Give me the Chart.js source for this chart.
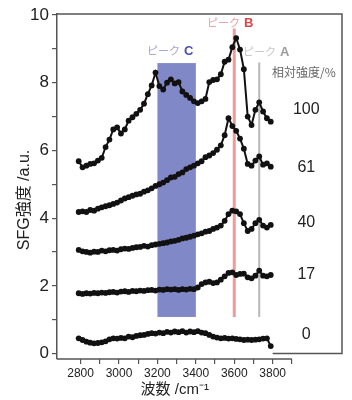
<!DOCTYPE html>
<html>
<head>
<meta charset="utf-8">
<script src="https://cdn.jsdelivr.net/npm/chart.js@4"></script>
<style>
  body { margin: 0; background: #fff; }
  canvas { display: block; }
</style>
</head>
<body>
<canvas id="sfg" width="352" height="400"></canvas>
<script>
// wavenumber axis (cm-1)
const wavenumber = [2790, 2810, 2830, 2850, 2870, 2890, 2910, 2930, 2950, 2970,
  2990, 3010, 3030, 3050, 3070, 3090, 3110, 3130, 3150, 3170,
  3190, 3210, 3230, 3250, 3270, 3290, 3310, 3330, 3350, 3370,
  3390, 3410, 3430, 3450, 3470, 3490, 3510, 3530, 3550, 3570,
  3590, 3610, 3630, 3650, 3670, 3690, 3710, 3730, 3750, 3770, 3790];

// SFG intensity, relative humidity 100 / 61 / 40 / 17 / 0 %
const rh100 = [5.68, 5.50, 5.55, 5.60, 5.62, 5.70, 5.78, 6.10, 6.32, 6.62,
  6.68, 6.50, 6.62, 6.88, 6.98, 7.08, 7.20, 7.38, 7.66, 7.92,
  8.30, 7.90, 7.80, 8.00, 8.10, 7.98, 8.02, 7.74, 7.64, 7.55,
  7.45, 7.40, 7.45, 7.52, 8.02, 8.08, 8.10, 8.25, 8.62, 8.68,
  9.05, 9.32, 8.98, 8.40, 7.00, 6.75, 7.20, 7.42, 7.15, 6.95, 6.85];
const rh61 = [4.18, 4.20, 4.18, 4.24, 4.22, 4.28, 4.32, 4.35, 4.38, 4.42,
  4.46, 4.52, 4.58, 4.62, 4.66, 4.70, 4.72, 4.78, 4.82, 4.88,
  4.95, 5.00, 5.05, 5.12, 5.20, 5.22, 5.30, 5.35, 5.45, 5.50,
  5.55, 5.62, 5.68, 5.80, 5.85, 5.92, 6.02, 6.15, 6.45, 6.95,
  6.72, 6.58, 6.35, 6.05, 5.60, 5.55, 5.70, 5.82, 5.58, 5.62, 5.52];
const rh40 = [3.06, 3.02, 3.00, 2.98, 3.01, 3.00, 3.04, 3.02, 3.05, 3.06,
  3.04, 3.08, 3.10, 3.09, 3.12, 3.14, 3.15, 3.18, 3.16, 3.20,
  3.22, 3.24, 3.26, 3.28, 3.31, 3.33, 3.36, 3.40, 3.42, 3.45,
  3.48, 3.52, 3.55, 3.60, 3.62, 3.68, 3.72, 3.78, 3.92, 4.12,
  4.22, 4.20, 4.12, 3.85, 3.62, 3.68, 3.85, 3.95, 3.78, 3.72, 3.80];
const rh17 = [1.78, 1.76, 1.78, 1.77, 1.79, 1.78, 1.80, 1.79, 1.81, 1.82,
  1.80, 1.83, 1.84, 1.82, 1.85, 1.84, 1.86, 1.85, 1.87, 1.88,
  1.86, 1.89, 1.88, 1.90, 1.89, 1.90, 1.88, 1.90, 1.89, 1.91,
  1.90, 1.95, 2.05, 2.10, 2.12, 2.08, 2.10, 2.18, 2.28, 2.38,
  2.40, 2.32, 2.35, 2.36, 2.25, 2.22, 2.30, 2.45, 2.30, 2.28, 2.32];
const rh0 = [0.45, 0.40, 0.35, 0.32, 0.30, 0.31, 0.33, 0.36, 0.42, 0.45,
  0.44, 0.46, 0.45, 0.50, 0.48, 0.52, 0.54, 0.55, 0.58, 0.60,
  0.59, 0.62, 0.60, 0.64, 0.62, 0.65, 0.63, 0.66, 0.62, 0.65,
  0.63, 0.66, 0.62, 0.60, 0.55, 0.50, 0.47, 0.45, 0.46, 0.44,
  0.45, 0.43, 0.42, 0.40, 0.41, 0.40, 0.41, 0.42, 0.44, 0.45, 0.22];

const seriesValues = [rh100, rh61, rh40, rh17, rh0];
const seriesLabels = ['100', '61', '40', '17', '0'];
const seriesLabelY = [7.2, 5.48, 3.86, 2.32, 0.55];

const xTickValues = [2800, 2900, 3000, 3100, 3200, 3300, 3400, 3500, 3600, 3700, 3800, 3900];
const xLabelValues = [2800, 3000, 3200, 3400, 3600, 3800];
const yTickValues = [0, 1, 2, 3, 4, 5, 6, 7, 8, 9, 10];

// peak markers
const peakC = [3200, 3400];
const peakB = 3600;
const peakA = 3730;
const markerBottom = 1.08;
const peakCTop = 8.58;
const peakBTop = 9.6;
const peakATop = 8.6;

const FONT = "'Liberation Sans', Arial, 'Noto Sans CJK JP', sans-serif";
const JFONT = "'Noto Sans CJK JP', 'Liberation Sans', sans-serif";
Chart.defaults.font.family = FONT;

const decorations = {
    id: 'decorations',
    beforeDatasetsDraw(chart) {
        const { ctx, chartArea: a, scales: { x, y } } = chart;
        ctx.save();
        // peak C band
        const cx0 = x.getPixelForValue(peakC[0]), cx1 = x.getPixelForValue(peakC[1]);
        const cy0 = y.getPixelForValue(peakCTop), cy1 = y.getPixelForValue(markerBottom);
        ctx.fillStyle = '#8188c8';
        ctx.fillRect(cx0, cy0, cx1 - cx0, cy1 - cy0);
        // peak B line
        ctx.strokeStyle = '#f29a9a';
        ctx.lineWidth = 3;
        ctx.beginPath();
        ctx.moveTo(x.getPixelForValue(peakB), y.getPixelForValue(peakBTop));
        ctx.lineTo(x.getPixelForValue(peakB), y.getPixelForValue(markerBottom));
        ctx.stroke();
        // peak A line
        ctx.strokeStyle = '#b8b8b8';
        ctx.lineWidth = 2;
        ctx.beginPath();
        ctx.moveTo(x.getPixelForValue(peakA), y.getPixelForValue(peakATop));
        ctx.lineTo(x.getPixelForValue(peakA), y.getPixelForValue(markerBottom));
        ctx.stroke();

        // frame and axis line
        ctx.strokeStyle = '#555';
        ctx.lineWidth = 1.5;
        const y0 = y.getPixelForValue(0);
        ctx.beginPath();
        ctx.moveTo(a.left, a.top);
        ctx.lineTo(a.right, a.top);
        ctx.lineTo(a.right, y0);
        ctx.lineTo(x.getPixelForValue(3800), y0);
        ctx.stroke();
        ctx.beginPath();
        ctx.moveTo(a.left, a.bottom);
        ctx.lineTo(x.getPixelForValue(3900), a.bottom);
        ctx.stroke();
        ctx.restore();
    },
    afterDraw(chart) {
        const { ctx, chartArea: a, scales: { x, y } } = chart;
        ctx.save();
        ctx.textBaseline = 'middle';

        // peak labels
        const peak = (px, py, letter, c1, c2) => {
            ctx.font = '11px ' + JFONT;
            ctx.fillStyle = c1;
            ctx.textAlign = 'left';
            ctx.fillText('ピーク', px, py);
            const w = ctx.measureText('ピーク').width;
            ctx.font = 'bold 13px ' + FONT;
            ctx.fillStyle = c2;
            ctx.fillText(letter, px + w + 4, py);
        };
        peak(147, 51, 'C', '#a4a4dc', '#4b4fb4');
        peak(207, 23, 'B', '#eaa0a0', '#d94848');
        peak(243, 52, 'A', '#c8c8c8', '#9c9c9c');

        ctx.font = '12px ' + JFONT;
        ctx.fillStyle = '#666';
        ctx.textAlign = 'left';
        ctx.fillText('相対強度/%', 272, 72);

        // humidity labels
        ctx.font = '16px ' + FONT;
        ctx.fillStyle = '#222';
        ctx.textAlign = 'center';
        seriesLabels.forEach((t, i) => {
            ctx.fillText(t, x.getPixelForValue(3975), y.getPixelForValue(seriesLabelY[i]));
        });

        // axis titles
        ctx.font = '15px ' + FONT;
        ctx.fillStyle = '#222';
        ctx.fillText('波数 /cm⁻¹', x.getPixelForValue(3290), 390);
        ctx.translate(25, 200);
        ctx.rotate(-Math.PI / 2);
        ctx.font = '16px ' + FONT;
        ctx.fillText('SFG強度 /a.u.', 0, 0);
        ctx.restore();
    }
};

const datasets = seriesValues.map((vals, i) => ({
    label: seriesLabels[i],
    data: wavenumber.map((w, j) => ({ x: w, y: vals[j] })),
    showLine: true,
    borderColor: '#111',
    borderWidth: 2,
    pointRadius: 2.9,
    pointBackgroundColor: '#111',
    pointBorderWidth: 0
}));

new Chart(document.getElementById('sfg').getContext('2d'), {
    type: 'scatter',
    data: { datasets },
    options: {
        responsive: false,
        animation: false,
        devicePixelRatio: 1,
        layout: { padding: { left: 0, right: 10, top: 14, bottom: 0 } },
        plugins: {
            legend: { display: false },
            tooltip: { enabled: false }
        },
        scales: {
            x: {
                type: 'linear',
                min: 2677,
                max: 4161,
                afterBuildTicks: s => { s.ticks = xTickValues.map(v => ({ value: v })); },
                afterFit: s => { s.height = 41; },
                border: { display: false },
                grid: { drawOnChartArea: false, drawTicks: true, tickLength: 5, color: '#555', lineWidth: 1.2 },
                ticks: {
                    padding: 2,
                    maxRotation: 0,
                    autoSkip: false,
                    color: '#222',
                    font: { size: 12 },
                    callback: v => xLabelValues.includes(v) ? String(v) : ''
                }
            },
            y: {
                min: -0.162,
                max: 10.03,
                afterBuildTicks: s => { s.ticks = yTickValues.map(v => ({ value: v })); },
                afterFit: s => { s.width = 57; },
                border: { display: true, color: '#555', width: 1.5 },
                grid: { drawOnChartArea: false, drawTicks: true, tickLength: 5, color: '#555', lineWidth: 1.2 },
                ticks: {
                    padding: 3,
                    autoSkip: false,
                    color: '#222',
                    font: { size: 17 },
                    callback: v => v % 2 === 0 ? String(v) : ''
                }
            }
        }
    },
    plugins: [decorations]
});
</script>
</body>
</html>
